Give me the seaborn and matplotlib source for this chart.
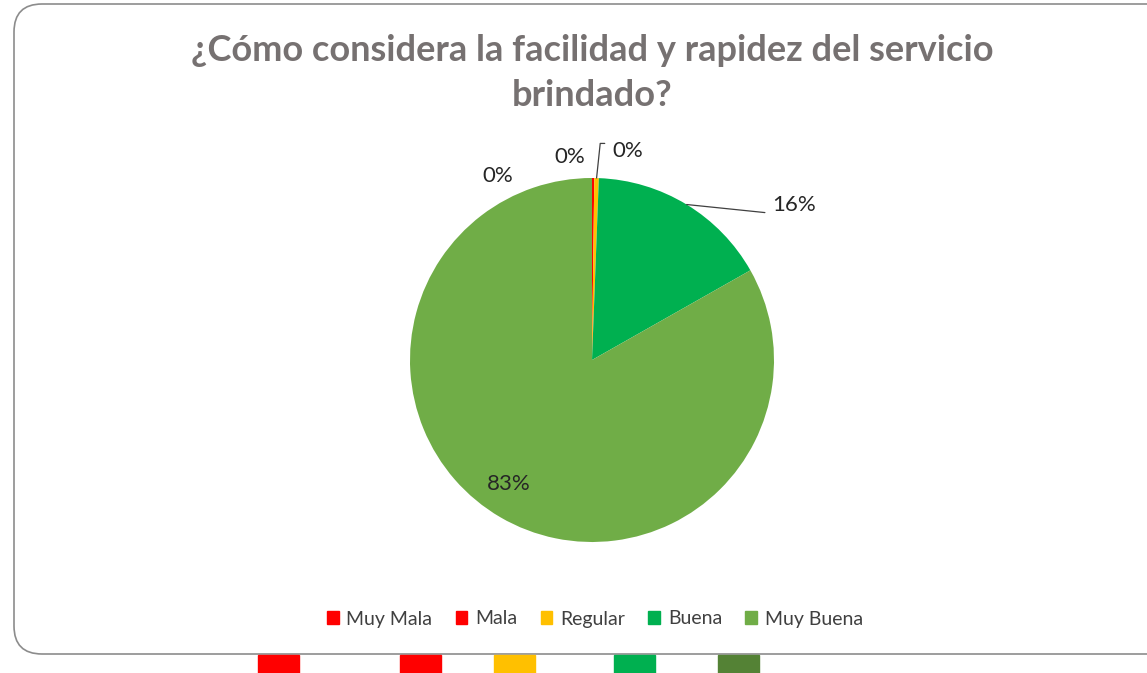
import matplotlib
import matplotlib.pyplot as plt
import numpy as np
import seaborn as sns
from matplotlib.patches import FancyBboxPatch, Rectangle

matplotlib.use("Agg")

# --- DATA ---
CATEGORIES = ["Muy Mala", "Mala", "Regular", "Buena", "Muy Buena"]
VALUES = [0.0, 0.2, 0.4, 16.2, 83.2]
LABELS = ["0%", "0%", "0%", "16%", "83%"]
COLORS = ["#ff0000", "#ff0000", "#ffc000", "#00b050", "#70ad47"]
STRIP_COLORS = ["#ff0000", "#ff0000", "#ffc000", "#00b050", "#548235"]

TITLE = "¿Cómo considera la facilidad y rapidez del servicio\nbrindado?"

# label placement (pie units, radius = 1)
LABEL_POS = [(-0.52, 1.01), (-0.12, 1.115), (0.11, 1.15), (0.99, 0.85), (-0.46, -0.68)]
LABEL_HA = ["center", "center", "left", "left", "center"]

W, H = 1147, 673


def main():
    sns.set_theme(style="white")
    plt.rcParams["font.family"] = ["Lato", "DejaVu Sans"]

    fig = plt.figure(figsize=(W / 100, H / 100), dpi=100)
    fig.patch.set_facecolor("white")

    # rounded chart frame (runs off the right edge), in inches
    frame = FancyBboxPatch((0.14, 0.19), 11.8, 6.50,
                           boxstyle="round,pad=0,rounding_size=0.28",
                           transform=fig.dpi_scale_trans, facecolor="white",
                           edgecolor="#8c8c8c", linewidth=1.2, zorder=-5)
    fig.patches.append(frame)

    # colour strip peeking below the frame
    for x0, c in zip([258, 400, 494, 614, 718], STRIP_COLORS):
        fig.patches.append(Rectangle((x0 / W, 0), 41 / W, 18 / H,
                                     transform=fig.transFigure, color=c, zorder=-5))

    fig.text(592 / W, 1 - 73 / H, TITLE, ha="center", va="center",
             fontsize=26, fontweight="bold", color="#767171", linespacing=1.45)

    r_px = 182
    half = 1.5
    size = 2 * half * r_px
    cx, cy = 592, H - 360
    ax = fig.add_axes([(cx - size / 2) / W, (cy - size / 2) / H, size / W, size / H])
    ax.patch.set_alpha(0)

    ax.pie(VALUES, colors=COLORS, startangle=90, counterclock=False,
           radius=1, wedgeprops=dict(linewidth=0))
    ax.set_xlim(-half, half)
    ax.set_ylim(-half, half)
    ax.set_aspect("equal")
    ax.axis("off")

    total = sum(VALUES)
    start = 0.0
    for i, v in enumerate(VALUES):
        mid = np.deg2rad((start + v / 2) / total * 360)
        start += v
        ex, ey = np.sin(mid), np.cos(mid)
        tx, ty = LABEL_POS[i]
        ax.text(tx, ty, LABELS[i], ha=LABEL_HA[i], va="center",
                fontsize=16, color="#262626")
        if CATEGORIES[i] == "Regular":
            ax.plot([ex, ex + 0.02, tx - 0.04], [ey, ty + 0.04, ty + 0.04],
                    color="#404040", lw=0.9)
        elif CATEGORIES[i] == "Buena":
            ax.plot([ex, tx - 0.04], [ey, ty - 0.04], color="#404040", lw=0.9)

    handles = [Rectangle((0, 0), 1, 1, color=c) for c in COLORS]
    fig.legend(handles, CATEGORIES, loc="center", bbox_to_anchor=(595 / W, 1 - 619 / H),
               ncol=5, frameon=False, fontsize=14, handlelength=0.6, handleheight=0.6,
               handletextpad=0.4, columnspacing=1.2, labelcolor="#404040")

    fig.savefig("out.png", dpi=100)
    plt.close(fig)


if __name__ == "__main__":
    main()
